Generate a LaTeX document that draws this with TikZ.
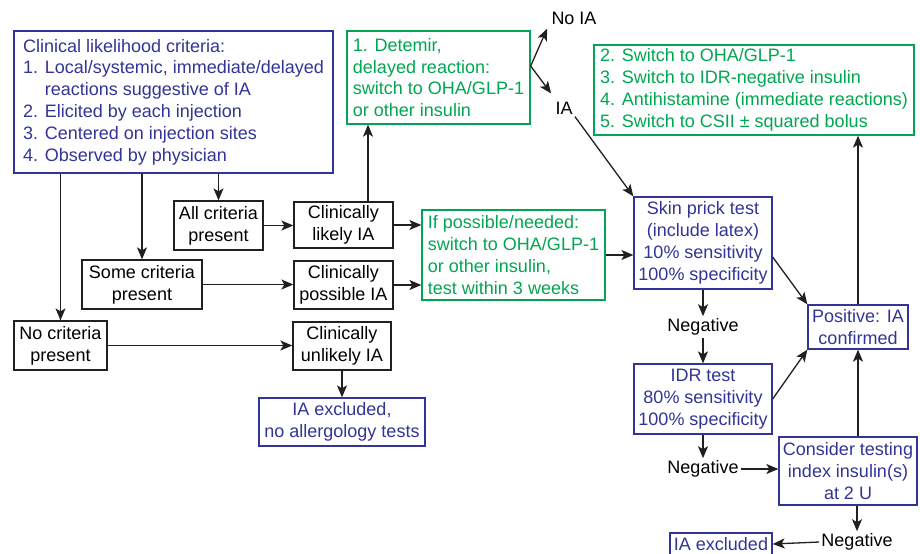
\documentclass[tikz,border=0pt]{standalone}
\usepackage{fontspec}
\setmainfont{Liberation Sans}
\usepackage{tikz}
\usetikzlibrary{positioning, arrows.meta, calc}
\definecolor{inkblue}{RGB}{50,52,150}
\definecolor{inkgreen}{RGB}{0,166,81}
\definecolor{inkline}{RGB}{35,31,32}

\begin{document}
\begin{tikzpicture}[x=0.5pt, y=-0.5pt, font=\fontsize{9}{10.9}\selectfont,
    box/.style={draw=inkline, line width=0.65pt, inner sep=0pt, align=center, text=black},
    bluebox/.style={box, draw=inkblue, text=inkblue},
    greenbox/.style={box, draw=inkgreen, text=inkgreen, align=left},
    lbl/.style={inner sep=1pt, text=black},
    arr/.style={-{Stealth[length=6pt, width=5pt, inset=1.5pt]}, draw=inkline, line width=0.65pt}]
  \useasboundingbox (0,0) rectangle (920,553);

  % criteria
  \node[bluebox, align=left, minimum width=159.5pt, minimum height=71pt] (crit) at (173.5,102)
    {Clinical likelihood criteria:\\
     1. Local/systemic, immediate/delayed\\
     \phantom{1. }reactions suggestive of IA\\
     2. Elicited by each injection\\
     3. Centered on injection sites\\
     4. Observed by physician};
  \node[box, minimum width=44.5pt, minimum height=24.5pt] (allcrit) at (218.5,225.5) {All criteria\\present};
  \node[box, minimum width=60pt, minimum height=24.5pt] (somecrit) at (142,284.5) {Some criteria\\present};
  \node[box, minimum width=46.5pt, minimum height=24.5pt] (nocrit) at (60.5,345.5) {No criteria\\present};

  % clinical judgement
  \node[box, minimum width=49.5pt, minimum height=23pt] (likely) at (343.5,225) {Clinically\\likely IA};
  \node[box, minimum width=49.5pt, minimum height=24pt] (possible) at (343.5,285) {Clinically\\possible IA};
  \node[box, minimum width=49pt, minimum height=24pt] (unlikely) at (342,346) {Clinically\\unlikely IA};
  \node[bluebox, minimum width=83pt, minimum height=24pt] (excl1) at (342,422) {IA excluded,\\no allergology tests};

  % management
  \node[greenbox, minimum width=91.5pt, minimum height=46.5pt] (detemir) at (438.5,77.5)
    {1. Detemir,\\delayed reaction:\\switch to OHA/GLP-1\\or other insulin};
  \node[lbl] (noia) at (574,18) {No IA};
  \node[lbl] (ia) at (564,108) {IA};
  \node[greenbox, minimum width=91.5pt, minimum height=45pt] (ifposs) at (513.5,255)
    {If possible/needed:\\switch to OHA/GLP-1\\or other insulin,\\test within 3 weeks};
  \node[greenbox, minimum width=160pt, minimum height=45pt] (treat) at (754,90)
    {2. Switch to OHA/GLP-1\\
     3. Switch to IDR-negative insulin\\
     4. Antihistamine (immediate reactions)\\
     5. Switch to CSII ± squared bolus};

  % tests
  \node[bluebox, minimum width=69pt, minimum height=46pt] (skin) at (703,243)
    {Skin prick test\\(include latex)\\10\% sensitivity\\100\% specificity};
  \node[lbl] (neg1) at (703,327) {Negative};
  \node[bluebox, minimum width=69pt, minimum height=35pt] (idr) at (703,399)
    {IDR test\\80\% sensitivity\\100\% specificity};
  \node[lbl] (neg2) at (703,469) {Negative};
  \node[bluebox, minimum width=50pt, minimum height=22pt] (pos) at (858,327) {Positive: IA\\confirmed};
  \node[bluebox, minimum width=69pt, minimum height=34pt] (consider) at (848,471)
    {Consider testing\\index insulin(s)\\at 2 U};
  \node[lbl] (neg3) at (857,542) {Negative};
  \node[bluebox, minimum width=51pt, minimum height=11pt] (excl2) at (721,544) {IA excluded};

  % connectors
  \draw[arr] (allcrit.north |- crit.south) -- (allcrit.north);
  \draw[arr] (somecrit.north |- crit.south) -- (somecrit.north);
  \draw[arr] (nocrit.north |- crit.south) -- (nocrit.north);
  \draw[arr] (allcrit.east) -- (allcrit.east -| likely.west);
  \draw[arr] (somecrit.east) -- (somecrit.east -| possible.west);
  \draw[arr] (nocrit.east) -- (nocrit.east -| unlikely.west);
  \draw[arr] ([xshift=12.25pt]likely.north) -- ([xshift=12.25pt]likely.north |- detemir.south);
  \draw[arr] (likely.east) -- (likely.east -| ifposs.west);
  \draw[arr] (possible.east) -- (possible.east -| ifposs.west);
  \draw[arr] (unlikely.south) -- (unlikely.south |- excl1.north);
  \draw[arr] ([yshift=5.75pt]detemir.east) -- ([xshift=-1pt,yshift=-1pt]noia.south west);
  \draw[arr] ([yshift=5.75pt]detemir.east) -- ([xshift=-1pt,yshift=3pt]ia.north west);
  \draw[arr] (ia.south east) -- (skin.north west);
  \draw[arr] (ifposs.east) -- (ifposs.east -| skin.west);
  \draw[arr] (skin.south) -- (neg1.north);
  \draw[arr] (neg1.south) -- (idr.north);
  \draw[arr] ([yshift=-7pt]skin.east) -- (pos.north west);
  \draw[arr] (idr.east) -- (pos.south west);
  \draw[arr] (idr.south) -- (neg2.north);
  \draw[arr] (neg2.east) -- (neg2.east -| consider.west);
  \draw[arr] (pos.south |- consider.north) -- (pos.south);
  \draw[arr] (pos.north) -- (pos.north |- treat.south);
  \draw[arr] (neg3.north |- consider.south) -- (neg3.north);
  \draw[arr] (neg3.west) -- (excl2.east);
\end{tikzpicture}
\end{document}
